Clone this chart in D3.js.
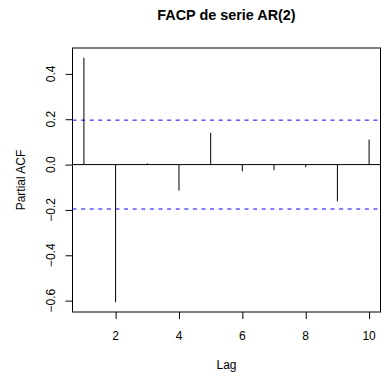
<!DOCTYPE html>
<html>
<head>
<meta charset="utf-8">
<script src="https://cdn.jsdelivr.net/npm/d3@7"></script>
<style>
  body { margin: 0; background: #fff; }
  text { font-family: "Liberation Sans", Arial, sans-serif; }
</style>
</head>
<body>
<div id="chart"></div>
<script>
// pacf values
const lags = [1, 2, 3, 4, 5, 6, 7, 8, 9, 10];
const pacf = [0.471, -0.607, 0.006, -0.115, 0.14, -0.03, -0.025, -0.012, -0.162, 0.11];
const clim = 0.196; // 1.96 / sqrt(100)
const xTicks = [2, 4, 6, 8, 10];
const yTicks = [-0.6, -0.4, -0.2, 0.0, 0.2, 0.4];
const title = 'FACP de serie AR(2)';

const width = 381, height = 380;
const margin = { top: 48, right: 0.5, bottom: 68, left: 72.5 };

const svg = d3.select('#chart').append('svg')
  .attr('width', width)
  .attr('height', height);

// R style 4% extension of the ranges
function ext(lo, hi) {
  const d = (hi - lo) * 0.04;
  return [lo - d, hi + d];
}
const yLo = d3.min([d3.min(pacf), -clim]);
const yHi = d3.max([d3.max(pacf), clim]);

const xScale = d3.scaleLinear()
  .domain(ext(d3.min(lags), d3.max(lags)))
  .range([margin.left, width - margin.right]);
const yScale = d3.scaleLinear()
  .domain(ext(yLo, yHi))
  .range([height - margin.bottom, margin.top]);

const fmt = d => (d < 0 ? '\u2212' : '') + Math.abs(d).toFixed(1);

// y axis
const yAxis = svg.append('g')
  .attr('transform', 'translate(' + margin.left + ',0)')
  .call(d3.axisLeft(yScale).tickValues(yTicks).tickSize(7).tickFormat(''));
yAxis.select('.domain').remove();
yAxis.selectAll('line').attr('stroke', '#000');

svg.selectAll('.ylab').data(yTicks).enter().append('text')
  .attr('class', 'ylab')
  .attr('transform', d => 'translate(55,' + yScale(d) + ') rotate(-90)')
  .attr('text-anchor', 'middle')
  .attr('font-size', 12)
  .text(fmt);

// x axis
const xAxis = svg.append('g')
  .attr('transform', 'translate(0,' + (height - margin.bottom) + ')')
  .call(d3.axisBottom(xScale).tickValues(xTicks).tickSize(7).tickFormat(''));
xAxis.select('.domain').remove();
xAxis.selectAll('line').attr('stroke', '#000');

svg.selectAll('.xlab').data(xTicks).enter().append('text')
  .attr('class', 'xlab')
  .attr('x', d => xScale(d))
  .attr('y', 340)
  .attr('text-anchor', 'middle')
  .attr('font-size', 12)
  .text(d => d);

// box
svg.append('rect')
  .attr('x', margin.left)
  .attr('y', margin.top)
  .attr('width', width - margin.right - margin.left)
  .attr('height', height - margin.bottom - margin.top)
  .attr('fill', 'none')
  .attr('stroke', '#000');

// zero line
svg.append('line')
  .attr('x1', margin.left).attr('x2', width - margin.right)
  .attr('y1', yScale(0)).attr('y2', yScale(0))
  .attr('stroke', '#000');

// confidence limits
svg.selectAll('.clim').data([clim, -clim]).enter().append('line')
  .attr('class', 'clim')
  .attr('x1', margin.left).attr('x2', width - margin.right)
  .attr('y1', d => yScale(d)).attr('y2', d => yScale(d))
  .attr('stroke', '#0000ff')
  .attr('stroke-dasharray', '4,4.6');

// spikes
svg.selectAll('.spike').data(lags).enter().append('line')
  .attr('class', 'spike')
  .attr('x1', d => xScale(d)).attr('x2', d => xScale(d))
  .attr('y1', yScale(0))
  .attr('y2', (d, i) => yScale(pacf[i]))
  .attr('stroke', '#000');

// titles
svg.append('text')
  .attr('x', (margin.left + width - margin.right) / 2)
  .attr('y', 19.5)
  .attr('text-anchor', 'middle')
  .attr('font-size', 14.4)
  .attr('font-weight', 'bold')
  .text(title);

svg.append('text')
  .attr('x', (margin.left + width - margin.right) / 2)
  .attr('y', 369)
  .attr('text-anchor', 'middle')
  .attr('font-size', 12)
  .text('Lag');

svg.append('text')
  .attr('transform', 'translate(25,' + (margin.top + height - margin.bottom) / 2 + ') rotate(-90)')
  .attr('text-anchor', 'middle')
  .attr('font-size', 12)
  .text('Partial ACF');
</script>
</body>
</html>
